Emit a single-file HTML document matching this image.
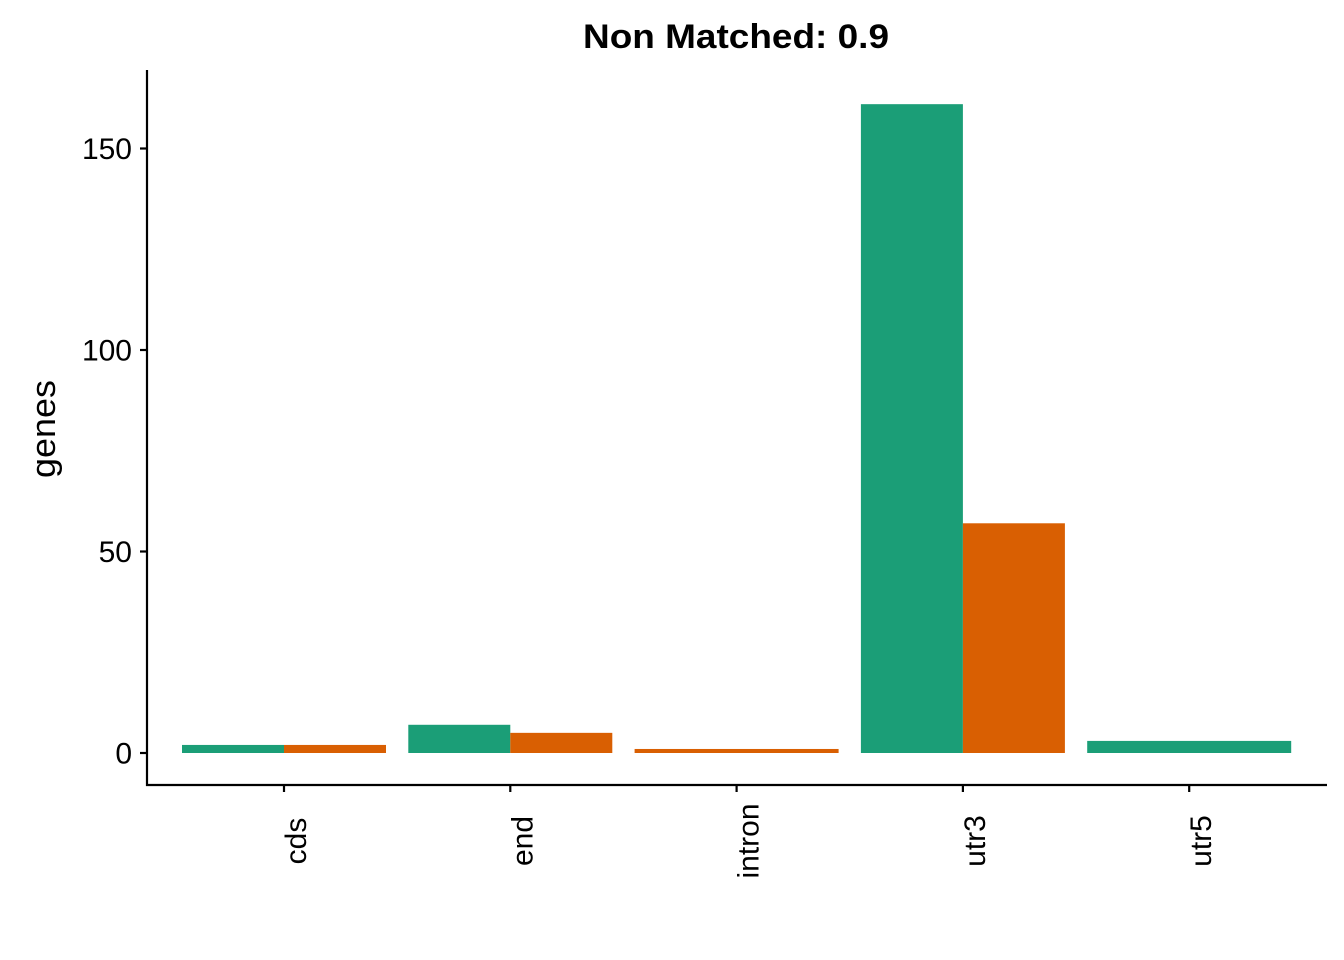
<!DOCTYPE html>
<html><head><meta charset="utf-8"><style>body{margin:0;background:#fff}svg{display:block}text{font-family:"Liberation Sans",Arial,sans-serif;fill:#000}</style></head>
<body>
<svg id="chart" width="1344" height="960" xmlns="http://www.w3.org/2000/svg">
<text x="736" y="48" text-anchor="middle" font-size="34" font-weight="bold" textLength="306" lengthAdjust="spacingAndGlyphs">Non Matched: 0.9</text>
<text transform="translate(55,429) rotate(-90)" text-anchor="middle" font-size="34" textLength="98" lengthAdjust="spacingAndGlyphs">genes</text>
<g id="bars"></g>
<g id="yaxis"></g>
<g id="xaxis"></g>
</svg>
<script>
const categories = ["cds","end","intron","utr3","utr5"];
const greenValues = [2, 7, null, 161, 3];
const orangeValues = [2, 5, 1, 57, null];
const yTicks = [0, 50, 100, 150];
const NS='http://www.w3.org/2000/svg';
const y0=753, pxPerUnit=4.03;
const y = v => y0 - v*pxPerUnit;
const step=226.3, x0=284;
const xc = i => x0 + i*step;
const full=204;
function mk(tag, attrs, parent){const e=document.createElementNS(NS,tag);for(const k in attrs)e.setAttribute(k,attrs[k]);parent.appendChild(e);return e;}
const bars=document.getElementById('bars');
categories.forEach((c,i)=>{
  const g=greenValues[i], o=orangeValues[i];
  const both = g!=null && o!=null;
  if(g!=null){
    const w = both?full/2:full, x = xc(i)-full/2;
    const r=mk('rect',{x:x,y:y(g),width:w,height:y0-y(g),fill:'#1b9e77'},bars);
    
    
  }
  if(o!=null){
    const w = both?full/2:full, x = both?xc(i):xc(i)-full/2;
    const r=mk('rect',{x:x,y:y(o),width:w,height:y0-y(o),fill:'#d95f02'},bars);
    
    
  }
});
const ya=document.getElementById('yaxis');
mk('line',{x1:147,y1:70,x2:147,y2:786,stroke:'#000','stroke-width':2.2},ya);
yTicks.forEach(t=>{
  mk('line',{x1:140,y1:y(t),x2:147,y2:y(t),stroke:'#000','stroke-width':2.2},ya);
  const tx=mk('text',{x:132,y:y(t)+10.5,'text-anchor':'end','font-size':30},ya);
  tx.textContent=t;
  
  
});
const xa=document.getElementById('xaxis');
mk('line',{x1:146,y1:785,x2:1327,y2:785,stroke:'#000','stroke-width':2.2},xa);
categories.forEach((c,i)=>{
  mk('line',{x1:xc(i),y1:785,x2:xc(i),y2:792,stroke:'#000','stroke-width':2.2},xa);
  const tx=mk('text',{transform:`translate(${xc(i)+22},841) rotate(-90)`,'text-anchor':'middle','font-size':30},xa);
  tx.textContent=c;
  
  
});
</script>
</body></html>
